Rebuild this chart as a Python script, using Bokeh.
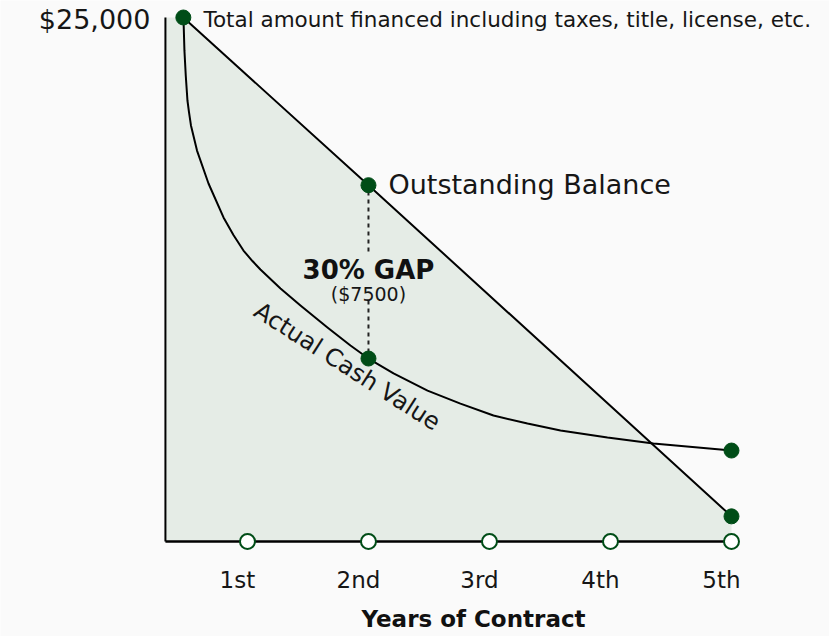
from bokeh.plotting import figure
from bokeh.models import Range1d
from bokeh.core.properties import value
from bokeh.embed import file_html
from bokeh.resources import INLINE

# ---- data -------------------------------------------------------------
years = [1, 2, 3, 4, 5]
year_labels = ["1st", "2nd", "3rd", "4th", "5th"]

total_financed = 25000

# Outstanding balance (straight line)
balance_x = [0.47, 2.0, 5.0]
balance_y = [25000, 17000, 1200]

# Actual cash value (depreciation curve)
acv_x = [0.471, 0.479, 0.490, 0.504, 0.517, 0.533, 0.583, 0.678, 0.802, 0.884,
         0.967, 1.041, 1.107, 1.273, 1.438, 1.661, 1.851, 2.0, 2.207, 2.488,
         2.760, 3.033, 3.314, 3.587, 3.975, 4.355, 5.0]
acv_y = [25000, 23430, 22230, 21040, 20470, 19850, 18650, 17080, 15460, 14620,
         13880, 13380, 12980, 12070, 11260, 10210, 9350, 8730, 8020, 7200,
         6580, 6010, 5630, 5300, 4960, 4680, 4340]

gap_year = 2.0
gap_top = 17000
gap_bottom = 8730
gap_label = "30% GAP"
gap_amount = "($7500)"

axis_start = 0.322
y_max_label = "$25,000"
note = "Total amount financed including taxes, title, license, etc."

# ---- style -------------------------------------------------------------
DARK = "#004d17"
FILL = "#e5ece6"
BG = "#fafafa"
TXT = "#161616"
FONT = "DejaVu Sans"

p = figure(width=829, height=636, x_range=Range1d(-1.041, 5.810),
           y_range=Range1d(-4532, 25811), x_axis_type=None, y_axis_type=None,
           toolbar_location=None, output_backend="svg", min_border=0,
           background_fill_color=BG, border_fill_color=BG,
           outline_line_color=None)
p.grid.visible = False

# shaded area under outstanding balance
p.patch([axis_start, balance_x[0], balance_x[-1], balance_x[-1], axis_start],
        [total_financed, balance_y[0], balance_y[-1], 0, 0],
        fill_color=FILL, line_color=None)

# axes lines
p.line([axis_start, axis_start], [0, total_financed], line_color="black", line_width=2)
p.line([axis_start, years[-1]], [0, 0], line_color="black", line_width=2.5)

# curves
p.line(balance_x, balance_y, line_color="black", line_width=2)
p.line(acv_x, acv_y, line_color="black", line_width=2, line_join="round")

# dashed gap line (broken around label)
p.line([gap_year, gap_year], [gap_top - 300, 13790], line_color="#222222",
       line_width=2, line_dash="4 4")
p.line([gap_year, gap_year], [11500, gap_bottom + 300], line_color="#222222",
       line_width=2, line_dash="4 4")

# dots
p.scatter([balance_x[0], gap_year, balance_x[-1], gap_year, acv_x[-1]],
          [balance_y[0], gap_top, balance_y[-1], gap_bottom, acv_y[-1]],
          size=15, fill_color=DARK, line_color=DARK)
p.scatter(years, [0] * len(years), size=15, fill_color="white",
          line_color=DARK, line_width=2)

# texts
p.text([0.198], [24905], text=[y_max_label], text_align="right",
       text_baseline="middle", text_font=value(FONT), text_font_size="27px",
       text_color=TXT)
p.text([0.636], [24905], text=[note], text_align="left",
       text_baseline="middle", text_font=value(FONT), text_font_size="21.5px",
       text_color=TXT)
p.text([2.165], [17033], text=["Outstanding Balance"], text_align="left",
       text_baseline="middle", text_font=value(FONT), text_font_size="27px",
       text_color=TXT)
p.text([gap_year], [12977], text=[gap_label], text_align="center",
       text_baseline="middle", text_font=value(FONT), text_font_size="26px",
       text_font_style="bold", text_color="#111111")
p.text([gap_year], [11830], text=[gap_amount], text_align="center",
       text_baseline="middle", text_font=value(FONT), text_font_size="19px",
       text_color=TXT)
p.text([1.826], [8349], text=["Actual Cash Value"], text_align="center",
       text_baseline="middle", angle=-0.57, text_font=value(FONT),
       text_font_size="24px", text_color=TXT)
p.text([y - 0.083 for y in years], [-1813] * len(years), text=year_labels,
       text_align="center", text_baseline="middle", text_font=value(FONT),
       text_font_size="23px", text_color=TXT)
p.text([2.868], [-3720], text=["Years of Contract"], text_align="center",
       text_baseline="middle", text_font=value(FONT), text_font_size="23px",
       text_font_style="bold", text_color="#111111")

html = file_html(p, INLINE)
html = html.replace("<body>", '<body style="background:#fafafa">', 1)
open("out.html", "w").write(html)
